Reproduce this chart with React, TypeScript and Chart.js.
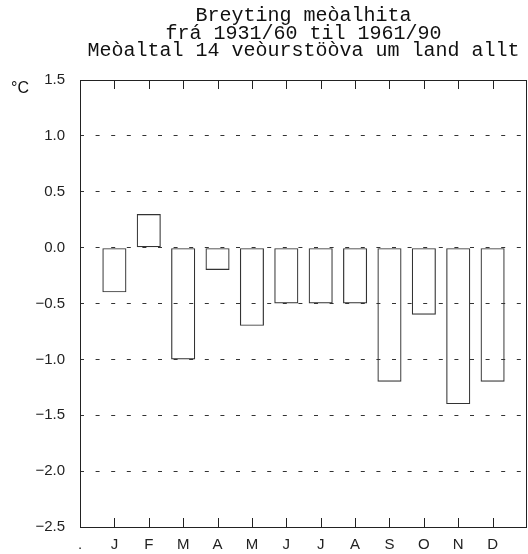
import React, { useEffect, useRef } from "react";
import { Chart, registerables } from "chart.js";

Chart.register(...registerables);

const titleLines = ["Breyting meòalhita", "frá 1931/60 til 1961/90", "Meòaltal 14 veòurstöòva um land allt"];
const unitLabel = "°C";
const categories = [".", "J", "F", "M", "A", "M", "J", "J", "A", "S", "O", "N", "D", ""];
const values = [null, -0.4, 0.3, -1.0, -0.2, -0.7, -0.5, -0.5, -0.5, -1.2, -0.6, -1.4, -1.2, null];
const yMin = -2.5;
const yMax = 1.5;
const yStep = 0.5;

const decorPlugin = {
  id: "decor",
  afterDraw(chart: any) {
    const ctx = chart.ctx;
    const { left, right, top, bottom } = chart.chartArea;
    const xs = chart.scales.x;
    ctx.save();
    ctx.strokeStyle = "#222";
    ctx.lineWidth = 1;
    ctx.setLineDash([]);
    ctx.strokeRect(Math.round(left) + 0.5, Math.round(top) + 0.5, Math.round(right - left) - 1, Math.round(bottom - top));
    for (let i = 1; i <= 12; i++) {
      const px = Math.round(xs.getPixelForValue(i)) + 0.5;
      ctx.beginPath();
      ctx.moveTo(px, top);
      ctx.lineTo(px, top + 9);
      ctx.moveTo(px, bottom);
      ctx.lineTo(px, bottom - 9);
      ctx.stroke();
    }
    ctx.fillStyle = "#111";
    ctx.font = "20px 'Liberation Mono'";
    ctx.textAlign = "center";
    ctx.textBaseline = "alphabetic";
    const cx = (left + right) / 2;
    titleLines.forEach((t, i) => ctx.fillText(t, cx, 21 + i * 17.5));
    ctx.font = "16px 'Liberation Sans'";
    ctx.textAlign = "left";
    ctx.textBaseline = "middle";
    ctx.fillText(unitLabel, 11, 89);
    ctx.restore();
  },
};

export default function App() {
  const ref = useRef<HTMLCanvasElement>(null);
  useEffect(() => {
    const chart = new Chart(ref.current!, {
      type: "bar",
      data: {
        labels: categories,
        datasets: [
          {
            data: values as any,
            backgroundColor: "rgba(0,0,0,0)",
            borderColor: "#333",
            borderWidth: 1.2,
            borderSkipped: false,
            barPercentage: 0.7,
            categoryPercentage: 1,
          },
        ],
      },
      options: {
        animation: false,
        responsive: false,
        maintainAspectRatio: false,
        layout: { padding: { top: 80, right: 1, left: 0, bottom: 0 } },
        plugins: { legend: { display: false }, title: { display: false }, tooltip: { enabled: false } },
        scales: {
          x: {
            offset: false,
            grid: { display: false, drawTicks: false },
            border: { display: false },
            ticks: {
              autoSkip: false,
              maxRotation: 0,
              padding: 9,
              color: "#222",
              font: { family: "'Liberation Sans'", size: 15 },
            },
            afterFit(scale: any) {
              scale.height = 27;
              scale.paddingLeft = 0;
              scale.paddingRight = 0;
            },
          },
          y: {
            min: yMin,
            max: yMax,
            grid: {
              drawTicks: false,
              color: (c: any) => (c.tick && (c.tick.value === yMin || c.tick.value === yMax) ? "rgba(0,0,0,0)" : "#333"),
              lineWidth: 1,
            },
            border: { display: false, dash: [4, 11.6] },
            ticks: {
              stepSize: yStep,
              padding: 15,
              color: "#222",
              font: { family: "'Liberation Sans'", size: 15 },
              callback: (v: any) => {
                const n = Number(v);
                const s = Math.abs(n).toFixed(1);
                return n < 0 ? "\u2212" + s : s;
              },
            },
            afterFit(scale: any) {
              scale.width = 80;
            },
          },
        },
      },
      plugins: [decorPlugin],
    });
    return () => chart.destroy();
  }, []);
  return (
    <div style={{ position: "absolute", left: 0, top: 0, width: 528, height: 554, background: "#fff" }}>
      <canvas ref={ref} width={528} height={554} style={{ display: "block" }} />
    </div>
  );
}
